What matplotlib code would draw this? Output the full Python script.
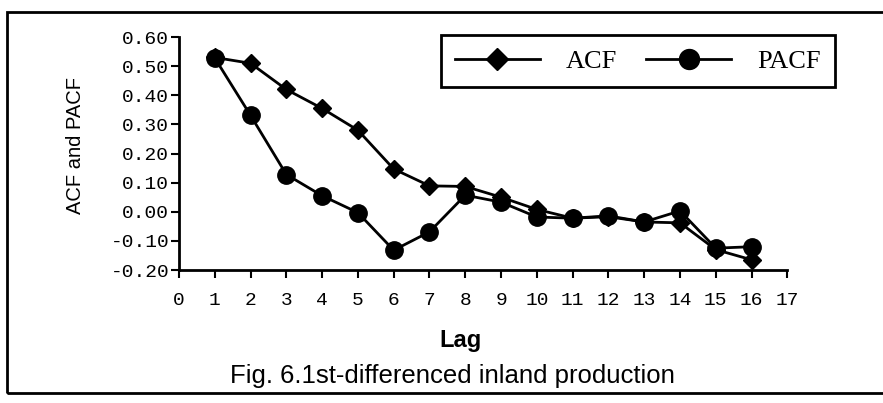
import matplotlib.pyplot as plt
from matplotlib.patches import Rectangle

# Lags and correlation values
lags = [1, 2, 3, 4, 5, 6, 7, 8, 9, 10, 11, 12, 13, 14, 15, 16]
acf = [0.53, 0.51, 0.42, 0.355, 0.28, 0.147, 0.089, 0.087, 0.05, 0.008,
       -0.022, -0.017, -0.035, -0.038, -0.13, -0.165]
pacf = [0.528, 0.331, 0.128, 0.055, -0.003, -0.132, -0.069, 0.057, 0.033, -0.018,
        -0.022, -0.014, -0.035, 0.003, -0.125, -0.12]
xticks = list(range(0, 18))
yticks = [-0.2, -0.1, 0.0, 0.1, 0.2, 0.3, 0.4, 0.5, 0.6]

fig = plt.figure(figsize=(8.83, 4.03), dpi=100)
ax = fig.add_axes([0.2027, 0.330, 0.689, 0.578])

ax.plot(lags, acf, color='black', lw=2, marker='D', markersize=9.5, label='ACF')
ax.plot(lags, pacf, color='black', lw=2, marker='o', markersize=12.5, label='PACF')

ax.set_xlim(0, 17)
ax.set_ylim(-0.2, 0.6)
ax.set_xticks(xticks)
ax.set_yticks(yticks)
ax.set_yticklabels(['%.2f' % v for v in yticks])
for lab in ax.get_xticklabels() + ax.get_yticklabels():
    lab.set_family('Liberation Mono')
    lab.set_fontsize(14)
ax.tick_params(direction='out', length=6, width=1.5, color='black')
ax.tick_params(axis='x', pad=10)
ax.tick_params(axis='y', pad=1)
for s in ['top', 'right']:
    ax.spines[s].set_visible(False)
for s in ['left', 'bottom']:
    ax.spines[s].set_linewidth(2)

fig.text(0.085, 0.64, 'ACF and PACF', rotation=90, ha='center', va='center',
         family='Liberation Sans', fontsize=14.5)
fig.text(0.521, 0.155, 'Lag', ha='center', va='center',
         family='Liberation Sans', fontweight='bold', fontsize=17)
fig.text(0.512, 0.068, 'Fig. 6.1st-differenced inland production', ha='center', va='center',
         family='Liberation Sans', fontsize=18.5)

leg = fig.legend(loc='center', bbox_to_anchor=(0.7225, 0.8486), ncol=2,
                 prop={'family': 'Liberation Serif', 'size': 19},
                 handlelength=3.2, handletextpad=1.0, columnspacing=1.1,
                 fancybox=False, framealpha=1, borderpad=0.55, markerscale=1.15)
leg.get_frame().set_edgecolor('black')
leg.get_frame().set_linewidth(2)

# outer frame of the scanned figure
fig.patches.append(Rectangle((0.008, 0.025), 1.2, 0.945, transform=fig.transFigure,
                             fill=False, edgecolor='black', lw=2))

fig.savefig('out.png', dpi=100)
